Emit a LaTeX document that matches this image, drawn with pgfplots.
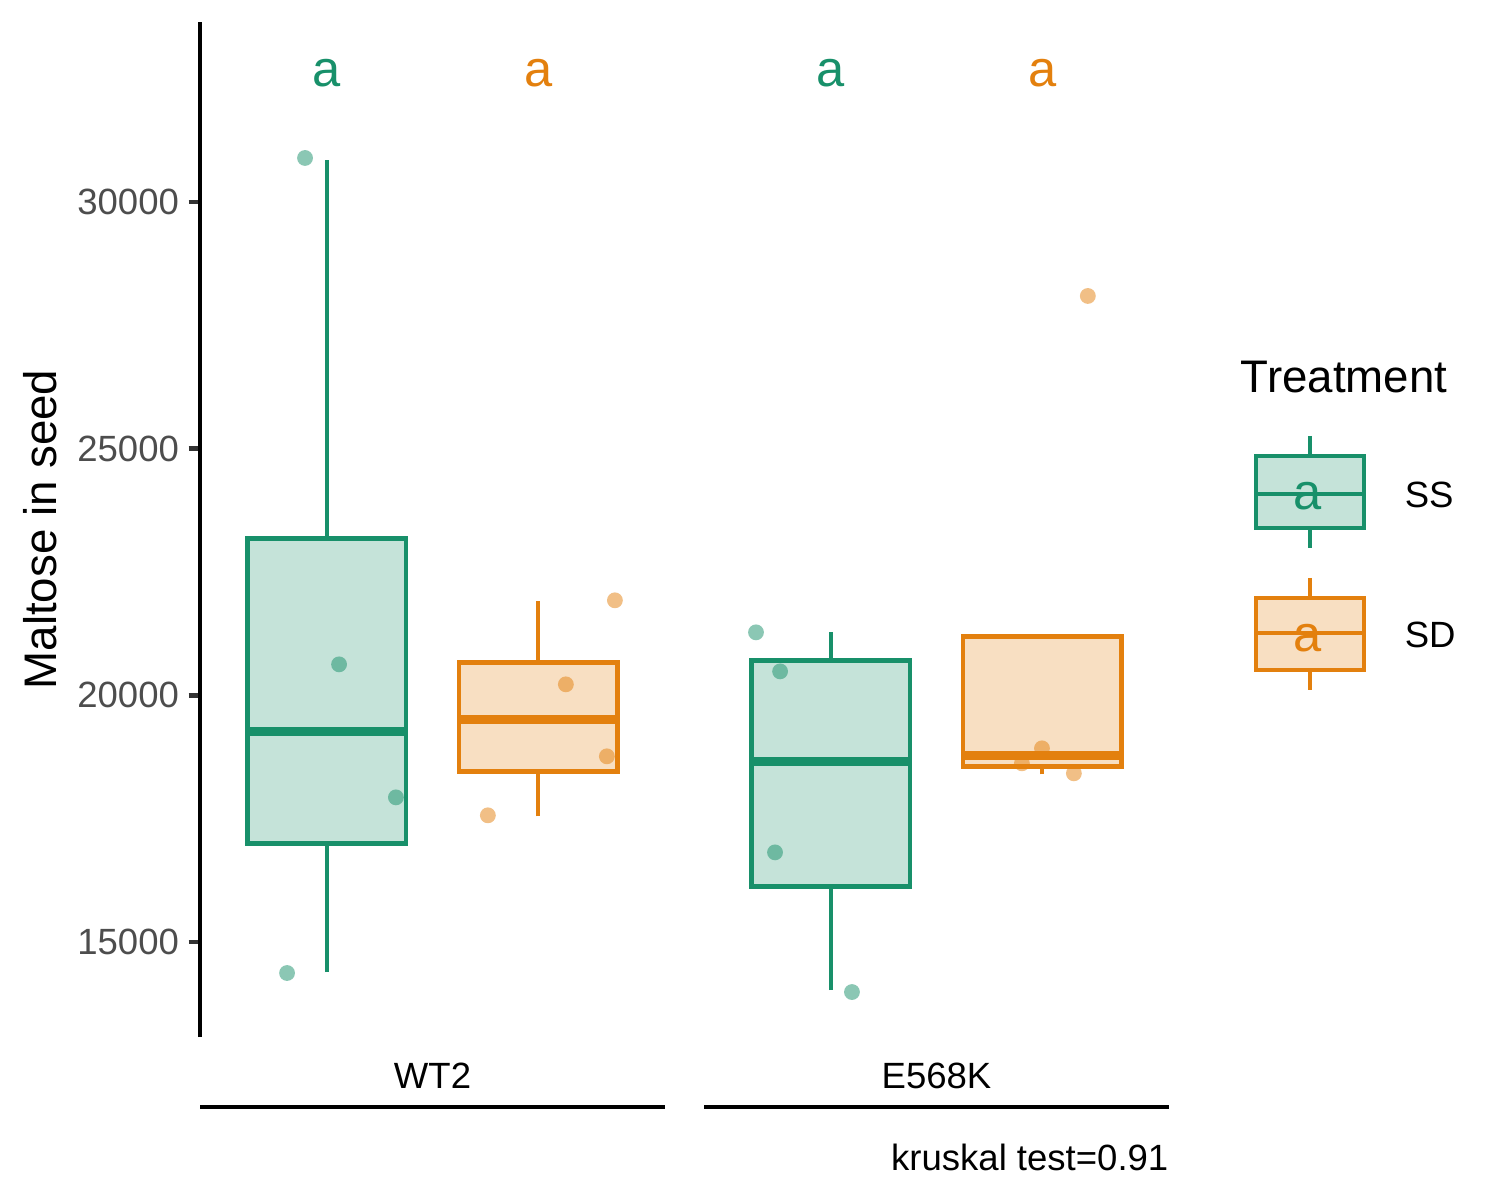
\documentclass[border=0pt]{standalone}
\usepackage{fontspec}
\setmainfont{Liberation Sans}
\usepackage{pgfplots}
\pgfplotsset{compat=1.18}
\definecolor{sscol}{HTML}{18906A}
\definecolor{sdcol}{HTML}{E3800E}
\definecolor{ssfill}{HTML}{C5E3D9}
\definecolor{sdfill}{HTML}{F8DFC2}
\definecolor{tickgray}{HTML}{4D4D4D}
\definecolor{tickline}{HTML}{333333}
\tikzset{letter/.style={anchor=base, font=\fontsize{12.2}{14}\selectfont}}
\begin{document}
\begin{tikzpicture}
\useasboundingbox (0,0) rectangle (360bp,288bp);
\pgfplotsset{
  panel/.style={scale only axis, width=111.6bp, height=243.6bp,
    xmin=0.4, xmax=2.6, ymin=13075, ymax=33648, clip=false},
  ssbox/.style={draw=sscol, fill=ssfill, line width=1.07bp, solid, mark=none},
  sdbox/.style={draw=sdcol, fill=sdfill, line width=1.07bp, solid, mark=none},
  ssln/.style={draw=sscol, line width=1.07bp, mark=none},
  sdln/.style={draw=sdcol, line width=1.07bp, mark=none},
  ssmed/.style={draw=sscol, line width=2.2bp, mark=none},
  sdmed/.style={draw=sdcol, line width=2.2bp, mark=none},
  sspts/.style={only marks, color=sscol, mark=*, mark size=1.9bp,
    mark options={solid, fill=sscol, draw=sscol, line width=0pt, draw opacity=0, fill opacity=0.5}},
  sdpts/.style={only marks, color=sdcol, mark=*, mark size=1.9bp,
    mark options={solid, fill=sdcol, draw=sdcol, line width=0pt, draw opacity=0, fill opacity=0.5}},
}
% ---------- Panel WT2 ----------
\begin{axis}[panel, at={(48bp,39.12bp)}, anchor=south west,
  axis x line=none, axis y line*=left,
  y axis line style={line width=1.07bp, black},
  ytick={15000,20000,25000,30000},
  scaled y ticks=false,
  yticklabel style={font=\fontsize{8.8}{10}\selectfont, text=tickgray, xshift=1.2bp},
  y tick style={line width=1.07bp, tickline},
  tick align=outside, major tick length=2.75pt,
  /pgf/number format/1000 sep={}, /pgf/number format/assume math mode=true,
  ylabel={Maltose in seed},
  ylabel style={font=\fontsize{11}{13}\selectfont, at={(axis description cs:-0.344,0.5)}, anchor=center},
]
% SS box: whiskers 14392 / 30851, box 17000-23182, median 19270
\addplot[ssln] coordinates {(1,23182) (1,30851)};
\addplot[ssln] coordinates {(1,14392) (1,17000)};
\addplot[ssbox] coordinates {(0.625,17000) (1.375,17000) (1.375,23182) (0.625,23182)} -- cycle;
\addplot[ssmed] coordinates {(0.625,19270) (1.375,19270)};
% SD box: whiskers 17547 / 21905, box 18459-20669, median 19513
\addplot[sdln] coordinates {(2,20669) (2,21905)};
\addplot[sdln] coordinates {(2,17547) (2,18459)};
\addplot[sdbox] coordinates {(1.625,18459) (2.375,18459) (2.375,20669) (1.625,20669)} -- cycle;
\addplot[sdmed] coordinates {(1.625,19513) (2.375,19513)};
\addplot[sspts] coordinates {(0.897,30892) (1.058,20628) (1.327,17932) (0.812,14372)};
\addplot[sdpts] coordinates {(2.363,21926) (2.131,20223) (2.325,18764) (1.762,17568)};
\node[letter, text=sscol] at (axis cs:1,32331) {a};
\node[letter, text=sdcol] at (axis cs:2,32331) {a};
\end{axis}
% ---------- Panel E568K ----------
\begin{axis}[panel, at={(168.96bp,39.12bp)}, anchor=south west, hide axis]
% SS box: whiskers 14027 / 21277, box 16128-20709, median 18662
\addplot[ssln] coordinates {(1,20709) (1,21277)};
\addplot[ssln] coordinates {(1,14027) (1,16128)};
\addplot[ssbox] coordinates {(0.625,16128) (1.375,16128) (1.375,20709) (0.625,20709)} -- cycle;
\addplot[ssmed] coordinates {(0.625,18662) (1.375,18662)};
% SD box: lower whisker 18399, box 18561-21196, median 18784
\addplot[sdln] coordinates {(2,18399) (2,18561)};
\addplot[sdbox] coordinates {(1.625,18561) (2.375,18561) (2.375,21196) (1.625,21196)} -- cycle;
\addplot[sdmed] coordinates {(1.625,18784) (2.375,18784)};
\addplot[sspts] coordinates {(0.646,21277) (0.760,20486) (0.736,16817) (1.100,13986)};
\addplot[sdpts] coordinates {(1.999,18926) (1.904,18622) (2.150,18419) (2.216,28095)};
\node[letter, text=sscol] at (axis cs:1,32331) {a};
\node[letter, text=sdcol] at (axis cs:2,32331) {a};
\end{axis}
% ---------- facet labels ----------
\node[anchor=base, font=\fontsize{8.8}{10}\selectfont] at (103.8bp,26.88bp) {WT2};
\node[anchor=base, font=\fontsize{8.8}{10}\selectfont] at (224.76bp,26.88bp) {E568K};
\draw[line width=1.07bp, black] (48bp,22.32bp) -- (159.6bp,22.32bp);
\draw[line width=1.07bp, black] (168.96bp,22.32bp) -- (280.56bp,22.32bp);
\node[anchor=base east, font=\fontsize{8.8}{10}\selectfont, inner sep=0pt] at (280.6bp,7.2bp) {kruskal test=0.91};
% ---------- legend ----------
\node[anchor=base west, font=\fontsize{11}{13}\selectfont, inner sep=0pt] at (297.6bp,193.7bp) {Treatment};
\draw[sscol, line width=1.07bp] (314.4bp,183.36bp) -- (314.4bp,178.56bp);
\draw[sscol, line width=1.07bp] (314.4bp,161.28bp) -- (314.4bp,156.48bp);
\draw[sscol, fill=ssfill, line width=1.07bp] (301.4bp,161.28bp) rectangle (327.4bp,178.56bp);
\draw[sscol, line width=1.07bp] (301.4bp,169.44bp) -- (327.4bp,169.44bp);
\node[anchor=base, font=\fontsize{12.2}{14}\selectfont, text=sscol, inner sep=0pt] at (313.9bp,165.6bp) {a};
\draw[sdcol, line width=1.07bp] (314.4bp,149.28bp) -- (314.4bp,144.48bp);
\draw[sdcol, line width=1.07bp] (314.4bp,127.2bp) -- (314.4bp,122.4bp);
\draw[sdcol, fill=sdfill, line width=1.07bp] (301.4bp,127.2bp) rectangle (327.4bp,144.48bp);
\draw[sdcol, line width=1.07bp] (301.4bp,136.08bp) -- (327.4bp,136.08bp);
\node[anchor=base, font=\fontsize{12.2}{14}\selectfont, text=sdcol, inner sep=0pt] at (313.9bp,131.52bp) {a};
\node[anchor=base west, font=\fontsize{8.8}{10}\selectfont, inner sep=0pt] at (336.96bp,166.3bp) {SS};
\node[anchor=base west, font=\fontsize{8.8}{10}\selectfont, inner sep=0pt] at (336.96bp,132.5bp) {SD};
\end{tikzpicture}
\end{document}
